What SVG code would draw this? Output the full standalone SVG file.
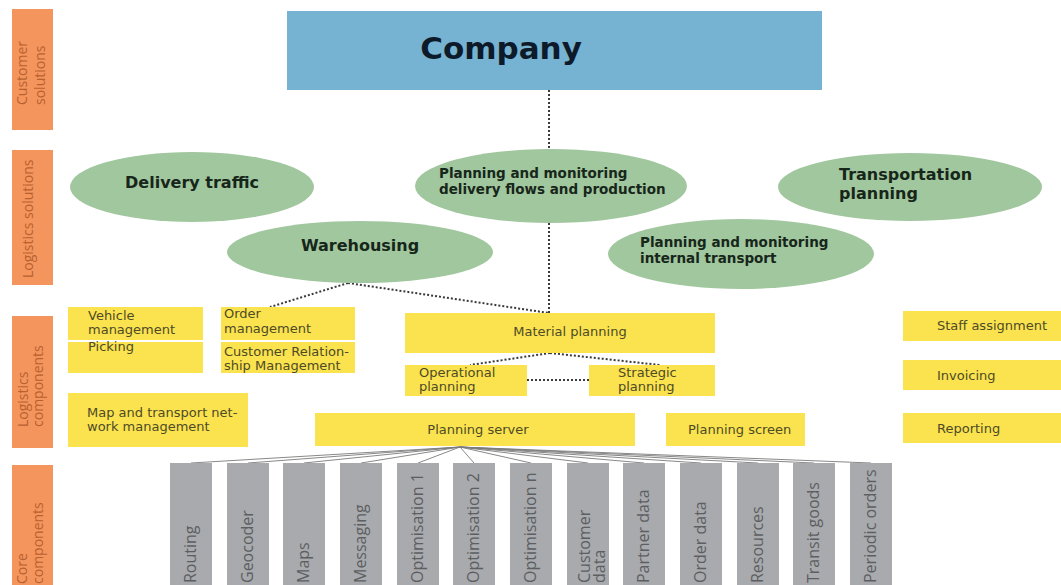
<svg xmlns="http://www.w3.org/2000/svg" width="1061" height="585" viewBox="0 0 1061 585">
<style>
.lbl{fill:#f4955e}
.lt{font-family:"Open Sans","DejaVu Sans",sans-serif;font-size:14px;fill:#b8612f}
.ell{fill:#a1c79e}
.et{font-family:"DejaVu Sans",Verdana,sans-serif;font-weight:bold;fill:#17261a}
.e16{font-size:16px}
.e13{font-size:13.5px}
.yb{fill:#fae34e}
.yt{font-family:"DejaVu Sans",Verdana,sans-serif;font-size:13px;fill:#4e4a28}
.gb{fill:#a8aaad}
.gt{font-family:"Open Sans","DejaVu Sans",sans-serif;font-size:16px;fill:#5c5e61}
.dot{fill:none;stroke:#3a3a3a;stroke-width:2;stroke-dasharray:2 2}
.fan{fill:none;stroke:#7a7a7a;stroke-width:0.9}
</style>
<rect width="1061" height="585" fill="#ffffff"/>

<g id="row-labels">
<rect class="lbl" x="12" y="9" width="41" height="121"/>
<text class="lt" transform="translate(27,105) rotate(-90)">Customer</text>
<text class="lt" transform="translate(45,105) rotate(-90)">solutions</text>
<rect class="lbl" x="12" y="150" width="41" height="135"/>
<text class="lt" transform="translate(33,278) rotate(-90)">Logistics solutions</text>
<rect class="lbl" x="12" y="316" width="41" height="132"/>
<text class="lt" transform="translate(28,427) rotate(-90)">Logistics</text>
<text class="lt" transform="translate(43,427) rotate(-90)">components</text>
<rect class="lbl" x="12" y="465" width="41" height="125"/>
<text class="lt" transform="translate(27,584) rotate(-90)">Core</text>
<text class="lt" transform="translate(43,584) rotate(-90)">components</text>
</g>

<g id="connectors">
<path class="dot" d="M549 90 V148"/>
<path class="dot" d="M549 223 V313"/>
<path class="dot" d="M348 283 L270 307"/>
<path class="dot" d="M348 283 L549 313"/>
<path class="dot" d="M550 353 L470 365"/>
<path class="dot" d="M550 353 L660 365"/>
<path class="dot" d="M527 380 H589"/>
<path class="fan" d="M460 447 L191 463 M460 447 L248 463 M460 447 L304 463 M460 447 L361 463 M460 447 L418 463 M460 447 L474 463 M460 447 L531 463 M460 447 L588 463 M460 447 L644 463 M460 447 L701 463 M460 447 L758 463 M460 447 L814 463 M460 447 L871 463"/>
</g>

<g id="company">
<rect x="287" y="11" width="535" height="79" fill="#76b2d2"/>
<text x="501" y="59" text-anchor="middle" font-family="DejaVu Sans, Verdana, sans-serif" font-weight="bold" font-size="31" fill="#0d1a2a">Company</text>
</g>

<g id="delivery-traffic">
<ellipse class="ell" cx="192" cy="187" rx="122" ry="35"/>
<text class="et e16" x="192" y="188" text-anchor="middle">Delivery traffic</text>
</g>
<g id="delivery-flows">
<ellipse class="ell" cx="551" cy="186" rx="136" ry="37"/>
<text class="et e13" x="439" y="178">Planning and monitoring</text>
<text class="et e13" x="439" y="194">delivery flows and production</text>
</g>
<g id="transportation-planning">
<ellipse class="ell" cx="910" cy="187" rx="132" ry="34"/>
<text class="et e16" x="839" y="180">Transportation</text>
<text class="et e16" x="839" y="199">planning</text>
</g>
<g id="warehousing">
<ellipse class="ell" cx="360" cy="252" rx="133" ry="31"/>
<text class="et e16" x="360" y="251" text-anchor="middle">Warehousing</text>
</g>
<g id="internal-transport">
<ellipse class="ell" cx="741" cy="254" rx="133" ry="35"/>
<text class="et e13" x="640" y="247">Planning and monitoring</text>
<text class="et e13" x="640" y="263">internal transport</text>
</g>

<g id="vehicle-management">
<rect class="yb" x="68" y="307" width="135" height="33"/>
<text class="yt" x="88" y="320">Vehicle</text>
<text class="yt" x="88" y="334">management</text>
</g>
<g id="picking">
<rect class="yb" x="68" y="342" width="135" height="31"/>
<text class="yt" x="88" y="351">Picking</text>
</g>
<g id="order-management">
<rect class="yb" x="221" y="307" width="134" height="33"/>
<text class="yt" x="224" y="318">Order</text>
<text class="yt" x="224" y="333">management</text>
</g>
<g id="crm">
<rect class="yb" x="221" y="342" width="134" height="31"/>
<text class="yt" x="224" y="356">Customer Relation-</text>
<text class="yt" x="224" y="370">ship Management</text>
</g>
<g id="map-management">
<rect class="yb" x="68" y="393" width="180" height="54"/>
<text class="yt" x="87" y="417">Map and transport net-</text>
<text class="yt" x="87" y="431">work management</text>
</g>
<g id="material-planning">
<rect class="yb" x="405" y="313" width="310" height="40"/>
<text class="yt" x="570" y="336" text-anchor="middle">Material planning</text>
</g>
<g id="operational-planning">
<rect class="yb" x="405" y="365" width="122" height="31"/>
<text class="yt" x="419" y="377">Operational</text>
<text class="yt" x="419" y="391">planning</text>
</g>
<g id="strategic-planning">
<rect class="yb" x="589" y="365" width="126" height="31"/>
<text class="yt" x="618" y="377">Strategic</text>
<text class="yt" x="618" y="391">planning</text>
</g>
<g id="planning-server">
<rect class="yb" x="315" y="413" width="320" height="33"/>
<text class="yt" x="478" y="434" text-anchor="middle">Planning server</text>
</g>
<g id="planning-screen">
<rect class="yb" x="666" y="413" width="139" height="33"/>
<text class="yt" x="688" y="434">Planning screen</text>
</g>
<g id="staff-assignment">
<rect class="yb" x="903" y="311" width="158" height="30"/>
<text class="yt" x="937" y="330">Staff assignment</text>
</g>
<g id="invoicing">
<rect class="yb" x="903" y="360" width="158" height="30"/>
<text class="yt" x="937" y="380">Invoicing</text>
</g>
<g id="reporting">
<rect class="yb" x="903" y="413" width="158" height="30"/>
<text class="yt" x="937" y="433">Reporting</text>
</g>

<g id="routing"><rect class="gb" x="170" y="463" width="42" height="125"/><text class="gt" transform="translate(196,583) rotate(-90)">Routing</text></g>
<g id="geocoder"><rect class="gb" x="227" y="463" width="42" height="125"/><text class="gt" transform="translate(253,583) rotate(-90)">Geocoder</text></g>
<g id="maps"><rect class="gb" x="283" y="463" width="42" height="125"/><text class="gt" transform="translate(309,583) rotate(-90)">Maps</text></g>
<g id="messaging"><rect class="gb" x="340" y="463" width="42" height="125"/><text class="gt" transform="translate(366,583) rotate(-90)">Messaging</text></g>
<g id="optimisation-1"><rect class="gb" x="397" y="463" width="42" height="125"/><text class="gt" transform="translate(423,583) rotate(-90)">Optimisation 1</text></g>
<g id="optimisation-2"><rect class="gb" x="453" y="463" width="42" height="125"/><text class="gt" transform="translate(479,583) rotate(-90)">Optimisation 2</text></g>
<g id="optimisation-n"><rect class="gb" x="510" y="463" width="42" height="125"/><text class="gt" transform="translate(536,583) rotate(-90)">Optimisation n</text></g>
<g id="customer-data"><rect class="gb" x="567" y="463" width="42" height="125"/><text class="gt" font-size="15" transform="translate(590,583) rotate(-90)">Customer</text><text class="gt" font-size="15" transform="translate(605,583) rotate(-90)">data</text></g>
<g id="partner-data"><rect class="gb" x="623" y="463" width="42" height="125"/><text class="gt" transform="translate(649,583) rotate(-90)">Partner data</text></g>
<g id="order-data"><rect class="gb" x="680" y="463" width="42" height="125"/><text class="gt" transform="translate(706,583) rotate(-90)">Order data</text></g>
<g id="resources"><rect class="gb" x="737" y="463" width="42" height="125"/><text class="gt" transform="translate(763,583) rotate(-90)">Resources</text></g>
<g id="transit-goods"><rect class="gb" x="793" y="463" width="42" height="125"/><text class="gt" transform="translate(819,583) rotate(-90)">Transit goods</text></g>
<g id="periodic-orders"><rect class="gb" x="850" y="463" width="42" height="125"/><text class="gt" transform="translate(876,583) rotate(-90)">Periodic orders</text></g>
</svg>
